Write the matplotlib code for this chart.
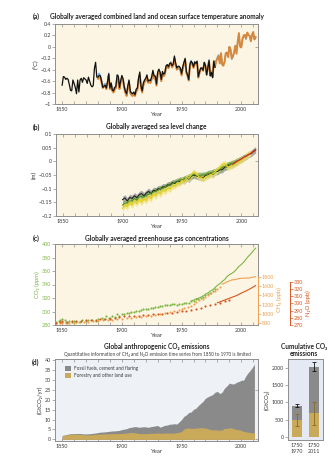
import matplotlib
matplotlib.use("Agg")
import matplotlib.pyplot as plt
from matplotlib.ticker import MultipleLocator, FuncFormatter
from matplotlib.patches import Patch

# ---------------- data ----------------
# (a) temperature anomaly (deg C)
temp_black_start = 1850
temp_black = [-0.67, -0.52, -0.53, -0.57, -0.55, -0.57, -0.66, -0.76, -0.77, -0.58,
              -0.64, -0.71, -0.82, -0.58, -0.79, -0.58, -0.55, -0.62, -0.54, -0.56,
              -0.58, -0.64, -0.53, -0.60, -0.67, -0.70, -0.68, -0.38, -0.27, -0.53,
              -0.53, -0.50, -0.51, -0.60, -0.71, -0.69, -0.67, -0.72, -0.61, -0.47,
              -0.72, -0.63, -0.76, -0.77, -0.71, -0.69, -0.49, -0.51, -0.71, -0.59,
              -0.50, -0.56, -0.70, -0.78, -0.82, -0.68, -0.58, -0.77, -0.81, -0.82,
              -0.79, -0.84, -0.74, -0.72, -0.54, -0.44, -0.68, -0.77, -0.63, -0.58,
              -0.55, -0.49, -0.60, -0.58, -0.59, -0.52, -0.41, -0.51, -0.51, -0.65,
              -0.44, -0.39, -0.44, -0.57, -0.43, -0.48, -0.45, -0.33, -0.31, -0.35,
              -0.29, -0.28, -0.33, -0.30, -0.16, -0.28, -0.37, -0.34, -0.34, -0.37,
              -0.47, -0.35, -0.27, -0.20, -0.43, -0.49, -0.57, -0.31, -0.25, -0.28,
              -0.35, -0.26, -0.29, -0.25, -0.52, -0.44, -0.37, -0.37, -0.41, -0.27,
              -0.33, -0.49, -0.37, -0.24, -0.51, -0.45, -0.54, -0.25, -0.36]
temp_col_start = 1880
temp_orange = [-0.56, -0.53, -0.55, -0.63, -0.72, -0.70, -0.68, -0.74, -0.64, -0.50,
               -0.74, -0.67, -0.77, -0.80, -0.75, -0.72, -0.55, -0.55, -0.74, -0.63,
               -0.54, -0.60, -0.73, -0.81, -0.86, -0.72, -0.63, -0.81, -0.84, -0.86,
               -0.83, -0.86, -0.78, -0.76, -0.58, -0.50, -0.72, -0.80, -0.67, -0.62,
               -0.59, -0.53, -0.63, -0.62, -0.63, -0.55, -0.46, -0.55, -0.55, -0.68,
               -0.48, -0.43, -0.47, -0.60, -0.47, -0.51, -0.48, -0.36, -0.34, -0.37,
               -0.31, -0.30, -0.36, -0.33, -0.20, -0.31, -0.40, -0.37, -0.37, -0.40,
               -0.50, -0.37, -0.29, -0.23, -0.45, -0.51, -0.59, -0.33, -0.28, -0.30,
               -0.37, -0.28, -0.31, -0.27, -0.54, -0.46, -0.39, -0.38, -0.42, -0.28,
               -0.34, -0.49, -0.38, -0.25, -0.50, -0.44, -0.53, -0.26, -0.35, -0.24,
               -0.21, -0.16, -0.29, -0.11, -0.31, -0.33, -0.26, -0.11, -0.10, -0.18,
               0.00, -0.05, -0.20, -0.16, -0.10, 0.02, -0.12, 0.09, 0.24, 0.01,
               -0.01, 0.14, 0.20, 0.21, 0.15, 0.25, 0.21, 0.19, 0.10, 0.21,
               0.26, 0.13, 0.17]
temp_blue = [-0.50, -0.46, -0.50, -0.58, -0.68, -0.66, -0.64, -0.70, -0.62, -0.46,
             -0.70, -0.64, -0.70, -0.74, -0.72, -0.70, -0.58, -0.56, -0.70, -0.62,
             -0.56, -0.55, -0.66, -0.78, -0.82, -0.70, -0.60, -0.78, -0.80, -0.82,
             -0.80, -0.82, -0.76, -0.74, -0.60, -0.50, -0.70, -0.78, -0.68, -0.60,
             -0.60, -0.54, -0.62, -0.60, -0.62, -0.58, -0.46, -0.56, -0.56, -0.68,
             -0.50, -0.44, -0.48, -0.60, -0.48, -0.52, -0.48, -0.38, -0.36, -0.38,
             -0.32, -0.26, -0.32, -0.32, -0.20, -0.32, -0.36, -0.36, -0.40, -0.40,
             -0.50, -0.40, -0.32, -0.25, -0.46, -0.50, -0.58, -0.28, -0.24, -0.30,
             -0.36, -0.28, -0.28, -0.26, -0.52, -0.44, -0.38, -0.36, -0.40, -0.28,
             -0.32, -0.44, -0.34, -0.22, -0.46, -0.42, -0.50, -0.24, -0.32, -0.26,
             -0.18, -0.14, -0.28, -0.12, -0.30, -0.30, -0.26, -0.12, -0.10, -0.16,
             0.00, -0.04, -0.22, -0.18, -0.10, 0.02, -0.06, 0.06, 0.20, 0.00,
             0.00, 0.12, 0.18, 0.18, 0.13, 0.24, 0.20, 0.20, 0.10, 0.20,
             0.24, 0.13, 0.16]

# (b) sea level (m), 2-year steps
sea_years = list(range(1900, 2013, 2))
sea_black = [-0.140, -0.134, -0.145, -0.132, -0.136, -0.126, -0.133, -0.122, -0.118, -0.126,
             -0.116, -0.110, -0.118, -0.106, -0.108, -0.100, -0.101, -0.093, -0.094, -0.086,
             -0.087, -0.078, -0.081, -0.073, -0.075, -0.068, -0.071, -0.061, -0.065, -0.054,
             -0.050, -0.053, -0.056, -0.058, -0.060, -0.051, -0.050, -0.043, -0.048, -0.038,
             -0.037, -0.031, -0.030, -0.021, -0.020, -0.012, -0.014, -0.006, -0.004, 0.004,
             0.007, 0.014, 0.018, 0.025, 0.028, 0.036, 0.042]
sea_yellow_years = list(range(1900, 2009, 2))
sea_yellow = [-0.172, -0.158, -0.166, -0.148, -0.160, -0.143, -0.154, -0.138, -0.150, -0.136,
              -0.144, -0.128, -0.137, -0.118, -0.127, -0.110, -0.120, -0.103, -0.110, -0.096,
              -0.102, -0.088, -0.090, -0.080, -0.080, -0.070, -0.072, -0.060, -0.062, -0.048,
              -0.040, -0.047, -0.056, -0.060, -0.063, -0.057, -0.053, -0.048, -0.046, -0.038,
              -0.031, -0.021, -0.012, -0.008, -0.019, -0.021, -0.014, -0.011, -0.004, 0.000,
              0.006, 0.010, 0.021, 0.024, 0.033]
sea_green_years = list(range(1900, 2003, 2))
sea_green = [-0.160, -0.153, -0.152, -0.146, -0.144, -0.136, -0.142, -0.130, -0.129, -0.131,
             -0.123, -0.121, -0.116, -0.113, -0.108, -0.106, -0.098, -0.099, -0.093, -0.091,
             -0.083, -0.083, -0.076, -0.075, -0.068, -0.069, -0.063, -0.061, -0.056, -0.053,
             -0.046, -0.051, -0.051, -0.051, -0.050, -0.049, -0.044, -0.043, -0.039, -0.037,
             -0.031, -0.029, -0.021, -0.019, -0.013, -0.011, -0.007, -0.005, 0.001, 0.003,
             0.009, 0.011]
sea_red_years = [1993, 1995, 1997, 1999, 2001, 2003, 2005, 2007, 2009, 2011, 2012]
sea_red = [-0.010, -0.004, 0.002, 0.006, 0.012, 0.018, 0.022, 0.027, 0.032, 0.038, 0.042]
sea_unc_black = 0.012
sea_unc_green = 0.011
sea_unc_yellow = 0.012

# (c) greenhouse gases
co2_ice_years = [1845, 1847, 1848, 1850, 1850, 1852, 1853, 1854, 1856, 1858,
                 1860, 1862, 1865, 1867, 1870, 1872, 1875, 1878, 1880, 1883,
                 1885, 1887, 1889, 1890, 1892, 1894, 1896, 1898, 1900, 1902,
                 1904, 1906, 1908, 1910, 1912, 1914, 1916, 1918, 1920, 1922,
                 1924, 1926, 1928, 1930, 1932, 1934, 1936, 1938, 1940, 1942,
                 1944, 1946, 1948, 1950, 1952, 1954, 1956, 1958, 1960, 1962,
                 1964, 1966, 1968, 1970, 1972, 1974, 1976, 1978]
co2_ice = [284, 286, 288, 289, 284, 287, 285, 283, 286, 285,
           286, 284, 285, 287, 286, 288, 287, 286, 289, 290,
           289, 293, 291, 291, 294, 292, 296, 293, 296, 297,
           298, 298, 299, 300, 301, 301, 302, 303, 303, 304,
           305, 305, 306, 307, 308, 308, 309, 310, 310, 311,
           311, 310, 311, 311, 312, 312, 313, 315, 316, 318,
           319, 320, 322, 324, 326, 328, 330, 333]
co2_mlo_years = [1958, 1960, 1962, 1964, 1966, 1968, 1970, 1972, 1974, 1976, 1978, 1980, 1982, 1984,
                 1986, 1988, 1990, 1992, 1994, 1996, 1998, 2000, 2002, 2004, 2006, 2008, 2010, 2012]
co2_mlo = [315.3, 316.9, 318.4, 319.6, 321.1, 323.0, 325.7, 327.5, 330.2, 332.1, 335.4, 338.7, 341.1, 344.4,
           347.2, 351.6, 354.4, 356.4, 358.8, 362.6, 366.7, 369.6, 373.2, 377.5, 381.9, 385.6, 389.9, 393.8]
ch4_ice_years = [1845, 1848, 1850, 1853, 1856, 1860, 1864, 1868, 1872, 1876,
                 1880, 1884, 1888, 1892, 1896, 1900, 1904, 1908, 1912, 1916,
                 1920, 1924, 1928, 1932, 1936, 1940, 1944, 1948, 1950, 1952,
                 1955, 1958, 1960, 1962, 1965, 1968, 1970, 1972, 1975, 1978,
                 1980, 1982]
ch4_ice = [790, 800, 795, 805, 800, 810, 815, 820, 825, 835,
           850, 855, 865, 870, 880, 890, 900, 910, 920, 930,
           950, 960, 980, 1000, 1020, 1040, 1060, 1080, 1110, 1120,
           1150, 1180, 1220, 1250, 1290, 1330, 1370, 1410, 1460, 1500,
           1550, 1590]
ch4_line_years = [1984, 1986, 1988, 1990, 1992, 1994, 1996, 1998, 2000, 2002, 2004, 2006, 2008, 2010, 2012]
ch4_line = [1645, 1666, 1693, 1714, 1736, 1742, 1751, 1767, 1773, 1773, 1777, 1775, 1787, 1799, 1808]
n2o_ice_years = [1845, 1848, 1850, 1854, 1858, 1862, 1866, 1870, 1874, 1878,
                 1882, 1886, 1890, 1894, 1898, 1902, 1906, 1910, 1914, 1918,
                 1922, 1926, 1930, 1934, 1938, 1942, 1946, 1950, 1954, 1958,
                 1962, 1966, 1970, 1974, 1978, 1982, 1986, 1990]
n2o_ice = [273, 274, 275, 274, 275, 276, 276, 277, 277, 277,
           278, 279, 279, 280, 281, 282, 282, 283, 283, 284,
           284, 285, 286, 286, 287, 287, 288, 289, 290, 291,
           293, 294, 296, 298, 299, 301, 303, 305]
n2o_line_years = [1980, 1984, 1988, 1992, 1996, 2000, 2004, 2008, 2012]
n2o_line = [301, 303.5, 306, 308.5, 311, 314.5, 317.5, 321, 325]

# (d) emissions GtCO2/yr
emis_years = list(range(1850, 2011, 2)) + [2011]
fossil = [0.20, 0.22, 0.26, 0.29, 0.29, 0.33, 0.33, 0.40, 0.42, 0.48,
          0.54, 0.62, 0.62, 0.66, 0.70, 0.86, 0.95, 1.00, 1.00, 1.15,
          1.30, 1.36, 1.38, 1.50, 1.65, 1.95, 2.05, 2.20, 2.50, 2.60,
          2.98, 3.20, 3.10, 3.30, 3.45, 3.40, 3.05, 3.40, 3.45, 3.70,
          3.80, 3.05, 3.50, 3.90, 4.00, 4.45, 4.60, 4.70, 4.30, 5.20,
          6.00, 6.40, 6.70, 7.70, 8.30, 9.50, 10.00, 11.20, 12.20, 13.40,
          15.00, 16.00, 17.10, 17.70, 18.90, 19.40, 18.40, 19.00, 20.20, 21.40,
          22.50, 22.20, 22.60, 23.70, 24.20, 25.20, 25.80, 28.30, 30.10, 31.70,
          33.50, 34.70]
forestry = [1.8, 2.0, 2.2, 2.5, 2.6, 2.6, 2.6, 2.6, 2.5, 2.3,
            2.2, 2.2, 2.3, 2.4, 2.5, 2.6, 2.7, 2.7, 2.8, 2.8,
            2.8, 2.9, 2.9, 2.9, 2.9, 3.0, 3.1, 3.2, 3.4, 3.5,
            3.4, 3.2, 3.0, 2.9, 2.9, 2.9, 3.0, 3.0, 3.1, 3.1,
            3.2, 3.1, 3.1, 3.2, 3.2, 3.2, 3.1, 3.2, 3.4, 3.6,
            4.0, 5.2, 5.6, 5.8, 5.5, 5.6, 5.7, 5.8, 5.9, 5.8,
            5.7, 5.4, 4.9, 4.8, 4.8, 4.7, 4.6, 4.8, 5.6, 5.5,
            5.8, 5.7, 5.3, 5.0, 4.9, 4.5, 4.0, 3.8, 3.6, 3.4,
            3.3, 3.3]

# cumulative
cum_labels = ["1750\n1970", "1750\n2011"]
cum_total = [910, 2040]
cum_total_err = [35, 120]
cum_forestry = [490, 680]
cum_forestry_err = [185, 330]

# ---------------- layout helpers ----------------
W, H = 335, 468
FAM = ['Lato', 'DejaVu Sans']
plt.rcParams['font.family'] = FAM
plt.rcParams['axes.unicode_minus'] = True

TS = 4.7    # title size
TK = 3.9    # tick size
LB = 4.3    # axis label size


def rect(l, t, r, b):
    return [l / W, 1 - b / H, (r - l) / W, (b - t) / H]


def fx(x):
    return x / W


def fy(y):
    return 1 - y / H


fig = plt.figure(figsize=(W / 100, H / 100), dpi=100)
fig.patch.set_facecolor('white')

CREAM = '#fcf5e3'
SPINE = '#8e8e8e'
TXT = '#3c3c3c'
fmt = FuncFormatter(lambda v, p: ('%g' % round(v, 6)).replace('-', '\u2212'))


def style(ax, bg, right_ticks=True, top_ticks=True):
    ax.set_facecolor(bg)
    for s in ax.spines.values():
        s.set_color(SPINE)
        s.set_linewidth(0.7)
    ax.tick_params(axis='y', which='both', direction='out', length=2, width=0.5,
                   labelsize=TK, colors=SPINE, labelcolor=TXT, pad=0.8)
    ax.tick_params(axis='x', which='both', direction='in', length=2, width=0.5,
                   labelsize=TK, colors=SPINE, labelcolor=TXT, pad=2.2, top=top_ticks)
    if right_ticks:
        sec = ax.secondary_yaxis('right')
        sec.tick_params(direction='in', length=2, width=0.5, colors=SPINE, labelright=False)
        sec.spines['right'].set_color(SPINE)
        sec.spines['right'].set_linewidth(0.7)
        return sec
    return None


def xyears(ax):
    ax.set_xlim(1844, 2014)
    ax.xaxis.set_major_locator(MultipleLocator(50))
    ax.xaxis.set_minor_locator(MultipleLocator(10))
    ax.set_xlabel('Year', fontsize=LB, color=TXT, labelpad=0.3)


def title(y, text, label):
    fig.text(fx(156.5), fy(y), text, ha='center', va='center', fontsize=TS,
             fontweight='bold', color='#222222')
    fig.text(fx(36), fy(y), label, ha='center', va='center', fontsize=TS,
             fontweight='bold', color='#222222')


def ylab(ax, text, color=TXT):
    ax.set_ylabel(text, fontsize=LB, color=color, labelpad=1.5)


# ---------------- (a) ----------------
ax_a = fig.add_axes(rect(55, 24, 258, 104))
style(ax_a, CREAM)
yrs_black = list(range(temp_black_start, temp_black_start + len(temp_black)))
yrs_col = list(range(temp_col_start, temp_col_start + len(temp_orange)))
ax_a.plot(yrs_col, temp_blue, color='#7ab0e0', lw=1.0, zorder=2)
ax_a.plot(yrs_col, temp_orange, color='#d8883a', lw=1.4, zorder=3)
ax_a.plot(yrs_black, temp_black, color='#111111', lw=0.9, zorder=4)
xyears(ax_a)
ax_a.set_ylim(-1, 0.4)
ax_a.yaxis.set_major_locator(MultipleLocator(0.2))
ax_a.yaxis.set_major_formatter(fmt)
ylab(ax_a, '(°C)')
title(16, 'Globally averaged combined land and ocean surface temperature anomaly', '(a)')

# ---------------- (b) ----------------
ax_b = fig.add_axes(rect(56, 134, 258, 216))
style(ax_b, CREAM)
lo = [v - sea_unc_black for v in sea_black]
hi = [v + sea_unc_black for v in sea_black]
ax_b.fill_between(sea_years, lo, hi, color='#a9a9a9', lw=0, zorder=2)
lo = [v - sea_unc_green for v in sea_green]
hi = [v + sea_unc_green for v in sea_green]
ax_b.fill_between(sea_green_years, lo, hi, color='#8cb060', lw=0, alpha=0.9, zorder=2.2)
lo = [v - sea_unc_yellow for v in sea_yellow]
hi = [v + sea_unc_yellow for v in sea_yellow]
ax_b.fill_between(sea_yellow_years, lo, hi, color='#efe27a', lw=0, alpha=0.75, zorder=2.4)
ax_b.plot(sea_years, sea_black, color='#222222', lw=0.8, zorder=3)
ax_b.plot(sea_green_years, sea_green, color='#4e8a2a', lw=0.8, zorder=3.2)
ax_b.plot(sea_yellow_years, sea_yellow, color='#e3cf1e', lw=0.9, zorder=3.4)
ax_b.plot(sea_red_years, sea_red, color='#d42a1e', lw=0.9, zorder=3.6)
xyears(ax_b)
ax_b.set_ylim(-0.2, 0.1)
ax_b.yaxis.set_major_locator(MultipleLocator(0.05))
ax_b.yaxis.set_major_formatter(fmt)
ylab(ax_b, '(m)')
title(127, 'Globally averaged sea level change', '(b)')

# ---------------- (c) ----------------
GREEN = '#7db544'
ORANGE = '#f0a050'
RED = '#d5561f'
ax_c = fig.add_axes(rect(55, 244, 258, 325))
style(ax_c, CREAM, right_ticks=False)
ax_c.scatter(co2_ice_years, co2_ice, s=2.4, color=GREEN, lw=0, zorder=3)
ax_c.plot(co2_mlo_years, co2_mlo, color=GREEN, lw=0.8, zorder=3)
xyears(ax_c)
ax_c.set_ylim(280, 400)
ax_c.yaxis.set_major_locator(MultipleLocator(20))
ax_c.tick_params(axis='y', labelcolor=GREEN)
ylab(ax_c, 'CO₂ (ppm)', GREEN)

ax_ch4 = ax_c.twinx()
ax_ch4.patch.set_visible(False)
for k in ['left', 'top', 'bottom']:
    ax_ch4.spines[k].set_visible(False)
ax_ch4.spines['right'].set_color(ORANGE)
ax_ch4.spines['right'].set_linewidth(0.7)
ax_ch4.spines['right'].set_bounds(800, 1800)
ax_ch4.scatter(ch4_ice_years, ch4_ice, s=2.4, color=ORANGE, lw=0, zorder=3)
ax_ch4.plot(ch4_line_years, ch4_line, color=ORANGE, lw=0.8, zorder=3)
ax_ch4.set_ylim(757, 2517)
ax_ch4.set_yticks([800, 1000, 1200, 1400, 1600, 1800])
ax_ch4.tick_params(axis='y', direction='out', length=2, width=0.5, colors=ORANGE,
                   labelsize=TK, pad=0.8)
fig.text(fx(279), fy(300), 'CH₄ (ppb)', rotation=90, ha='center', va='center',
         fontsize=LB, color=ORANGE)

ax_n2o = ax_c.twinx()
ax_n2o.patch.set_visible(False)
for k in ['left', 'top', 'bottom']:
    ax_n2o.spines[k].set_visible(False)
ax_n2o.spines['right'].set_position(('outward', 23))
ax_n2o.spines['right'].set_color(RED)
ax_n2o.spines['right'].set_linewidth(0.7)
ax_n2o.spines['right'].set_bounds(270, 330)
ax_n2o.scatter(n2o_ice_years, n2o_ice, s=2.4, color=RED, lw=0, zorder=4)
ax_n2o.plot(n2o_line_years, n2o_line, color=RED, lw=0.8, zorder=4)
ax_n2o.set_ylim(270, 383)
ax_n2o.set_yticks(list(range(270, 331, 10)))
ax_n2o.tick_params(axis='y', direction='out', length=2, width=0.5, colors=RED,
                   labelsize=TK, pad=0.8)
fig.text(fx(308), fy(303), 'N₂O (ppb)', rotation=90, ha='center', va='center',
         fontsize=LB, color=RED)
title(238, 'Globally averaged greenhouse gas concentrations', '(c)')

# ---------------- (d) ----------------
GRAY = '#8a8a8a'
GOLD = '#c9a95a'
ax_d = fig.add_axes(rect(55, 359, 258, 441))
style(ax_d, '#eef2f6')
tot = [f + l for f, l in zip(fossil, forestry)]
ax_d.fill_between(emis_years, 0, tot, color=GRAY, lw=0, zorder=2)
ax_d.fill_between(emis_years, 0, forestry, color=GOLD, lw=0, zorder=3)
xyears(ax_d)
ax_d.set_ylim(-0.8, 40.4)
ax_d.yaxis.set_major_locator(MultipleLocator(5))
ax_d.yaxis.set_major_formatter(fmt)
ylab(ax_d, '(GtCO₂/yr)')
leg = ax_d.legend(handles=[Patch(facecolor=GRAY, edgecolor='none', label='Fossil fuels, cement and flaring'),
                           Patch(facecolor=GOLD, edgecolor='none', label='Forestry and other land use')],
                  loc='upper left', bbox_to_anchor=(0.03, 0.97), frameon=False, fontsize=3.4,
                  handlelength=1.2, handleheight=1.2, handletextpad=0.6, labelspacing=0.55,
                  labelcolor=TXT)
fig.text(fx(157), fy(346), 'Global anthropogenic CO₂ emissions', ha='center', va='center',
         fontsize=TS, fontweight='bold', color='#222222')
fig.text(fx(157), fy(354.5), 'Quantitative information of CH₄ and N₂O emission time series from 1850 to 1970 is limited',
         ha='center', va='center', fontsize=3.3, color=TXT)
fig.text(fx(36), fy(362), '(d)', ha='center', va='center', fontsize=TS, fontweight='bold', color='#222222')

# ---------------- cumulative ----------------
ax_e = fig.add_axes(rect(288, 359, 323, 440))
ax_e.set_facecolor('#e4e9f4')
for s in ax_e.spines.values():
    s.set_color(SPINE)
    s.set_linewidth(0.7)
xpos = [0, 1]
ax_e.bar(xpos, cum_total, width=0.62, color=GRAY, zorder=2)
ax_e.bar(xpos, cum_forestry, width=0.62, color=GOLD, zorder=3)
ax_e.errorbar(xpos, cum_total, yerr=cum_total_err, fmt='none', ecolor='#111111',
              elinewidth=0.6, capsize=1.2, capthick=0.6, zorder=4)
ax_e.errorbar(xpos, cum_forestry, yerr=cum_forestry_err, fmt='none', ecolor='#8a6a20',
              elinewidth=0.6, capsize=1.2, capthick=0.6, zorder=4)
ax_e.set_xlim(-0.55, 1.55)
ax_e.set_ylim(-90, 2260)
ax_e.set_yticks([0, 500, 1000, 1500, 2000])
ax_e.set_xticks(xpos)
ax_e.set_xticklabels(cum_labels)
ax_e.tick_params(axis='y', direction='out', length=2, width=0.5, labelsize=TK,
                 colors=SPINE, labelcolor=TXT, pad=0.8)
ax_e.tick_params(axis='x', length=0, labelsize=TK, labelcolor=TXT, pad=2.5)
ylab(ax_e, '(GtCO₂)')
fig.text(fx(304), fy(350), 'Cumulative CO₂\nemissions', ha='center', va='center',
         fontsize=TS, fontweight='bold', color='#222222', linespacing=1.15)

fig.savefig('out.png', dpi=100, facecolor='white')
